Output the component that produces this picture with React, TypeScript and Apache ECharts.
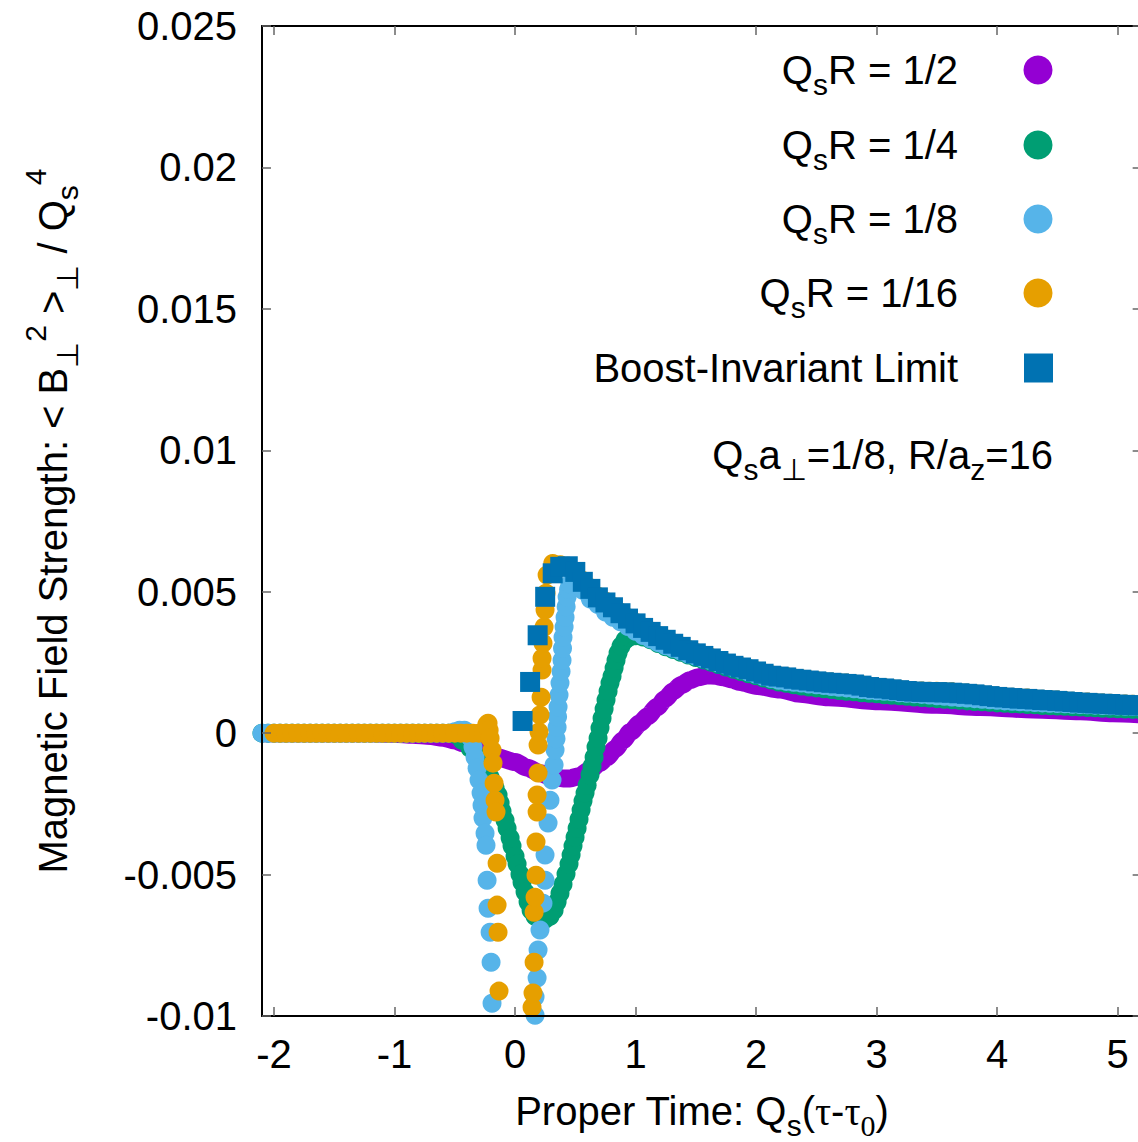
import React, { useEffect, useRef } from "react";
import * as echarts from "echarts";

const FONT = "'Liberation Sans', Arial, Helvetica, sans-serif";
const SERIF = "'Liberation Serif', 'DejaVu Serif', serif";

const X_TICKS = [-2, -1, 0, 1, 2, 3, 4, 5];
const Y_TICKS = [-0.01, -0.005, 0, 0.005, 0.01, 0.015, 0.02, 0.025];
const Y_TICK_LABELS = ["-0.01", "-0.005", "0", "0.005", "0.01", "0.015", "0.02", "0.025"];

const SERIES_NAMES = ["QsR = 1/2", "QsR = 1/4", "QsR = 1/8", "QsR = 1/16", "Boost-Invariant Limit"];
const LEGEND_TEXT = [
  "{m|Q}{s|s}{m|R = 1/2}",
  "{m|Q}{s|s}{m|R = 1/4}",
  "{m|Q}{s|s}{m|R = 1/8}",
  "{m|Q}{s|s}{m|R = 1/16}",
  "{m|Boost-Invariant Limit}",
];
const PARAM_TEXT = "{m|Q}{s|s}{m|a}{s|⊥}{m|=1/8, R/a}{s|z}{m|=16}";
const X_NAME = "{m|Proper Time: Q}{s|s}{m|(}{g|τ}{m|-}{g|τ}{z|0}{m|)}";
const Y_NAME = "{m|Magnetic Field Strength: < B}{s|⊥}{p|2}{m| >}{s|⊥}{m| / Q}{s|s}{p|4}";
const COLORS = ["#9400D3", "#009E73", "#56B4E9", "#E69F00", "#0072B2"];

// flat (zero) stretch before the collision
const FLAT_T = [-2.1, -2.05, -2, -1.95, -1.9, -1.85, -1.8, -1.75, -1.7, -1.65, -1.6, -1.55, -1.5, -1.45, -1.4, -1.35,
  -1.3, -1.25, -1.2, -1.15, -1.1, -1.05, -1, -0.95, -0.9, -0.85, -0.8, -0.75, -0.7, -0.65, -0.6, -0.55];

// common time grid (after tau0)
const T_GRID = [0.0625, 0.125, 0.1875, 0.25, 0.3125, 0.375, 0.4375, 0.5, 0.5625, 0.625, 0.6875, 0.75, 0.8125, 0.875,
  0.9375, 1, 1.0625, 1.125, 1.1875, 1.25, 1.3125, 1.375, 1.4375, 1.5, 1.5625, 1.625, 1.6875, 1.75, 1.8125, 1.875,
  1.9375, 2, 2.0625, 2.125, 2.1875, 2.25, 2.3125, 2.375, 2.4375, 2.5, 2.5625, 2.625, 2.6875, 2.75, 2.8125, 2.875,
  2.9375, 3, 3.0625, 3.125, 3.1875, 3.25, 3.3125, 3.375, 3.4375, 3.5, 3.5625, 3.625, 3.6875, 3.75, 3.8125, 3.875,
  3.9375, 4, 4.0625, 4.125, 4.1875, 4.25, 4.3125, 4.375, 4.4375, 4.5, 4.5625, 4.625, 4.6875, 4.75, 4.8125, 4.875,
  4.9375, 5, 5.0625, 5.125, 5.1875];

const BOOST_V = [0.00043, 0.00181, 0.00346, 0.00482, 0.00565, 0.00588, 0.0059, 0.0057, 0.00535, 0.0051,
  0.0048, 0.00462, 0.00445, 0.00424, 0.00405, 0.00388, 0.00372, 0.00358, 0.00343, 0.0033,
  0.00316, 0.00305, 0.00293, 0.00282, 0.00273, 0.00264, 0.00255, 0.00246, 0.00238, 0.00232,
  0.00226, 0.00218, 0.0021, 0.00203, 0.002, 0.00197, 0.00192, 0.00189, 0.00186, 0.00183,
  0.0018, 0.00178, 0.00176, 0.00174, 0.00172, 0.00168, 0.00163, 0.0016, 0.00158, 0.00155,
  0.00152, 0.00149, 0.00147, 0.00146, 0.00145, 0.00145, 0.00144, 0.00143, 0.00141, 0.00139,
  0.00137, 0.00134, 0.00131, 0.00128, 0.00126, 0.00124, 0.00122, 0.00121, 0.00119, 0.00117,
  0.00116, 0.00114, 0.00112, 0.0011, 0.00108, 0.00107, 0.00105, 0.00104, 0.00103, 0.00101,
  0.001, 0.00099, 0.00098];

const PURPLE_PTS = [[-2.1, 0], [-1.6, 0], [-1.2, 0], [-1.0, -0.00002], [-0.85, -0.00006], [-0.7, -0.0001],
  [-0.6, -0.00016], [-0.5, -0.00026], [-0.43, -0.00036], [-0.3, -0.00058], [-0.15, -0.00085], [0, -0.00102],
  [0.1, -0.00122], [0.207, -0.00142], [0.3, -0.00154], [0.4, -0.0016], [0.456, -0.0016], [0.53, -0.00152],
  [0.622, -0.00131], [0.7, -0.00106], [0.763, -0.00085], [0.83, -0.00056], [0.896, -0.00025], [0.96, 0.00005],
  [1.037, 0.00035], [1.1, 0.0006], [1.178, 0.00092], [1.25, 0.00122], [1.311, 0.00148], [1.38, 0.0017],
  [1.452, 0.00187], [1.52, 0.00198], [1.593, 0.00204], [1.66, 0.00203], [1.726, 0.00198], [1.8, 0.0019],
  [1.867, 0.00181], [2.008, 0.00167], [2.2, 0.00154], [2.365, 0.00139], [2.6, 0.00127], [3.03, 0.00113],
  [3.5, 0.001], [3.86, 0.00092], [4.3, 0.00084], [4.69, 0.00077], [4.96, 0.0007], [5.2, 0.00066]];

const GREEN_DIP = [[-0.5, -0.00004], [-0.44, -0.00025], [-0.373, -0.00053], [-0.307, -0.00085], [-0.249, -0.0012],
  [-0.207, -0.00156], [-0.166, -0.00194], [-0.141, -0.00219], [-0.124, -0.00247], [-0.108, -0.00276],
  [-0.083, -0.00308], [-0.066, -0.00336], [-0.041, -0.00371], [-0.025, -0.00399], [0, -0.00435], [0.017, -0.00463],
  [0.041, -0.00499], [0.058, -0.00527], [0.083, -0.00562], [0.108, -0.00597], [0.133, -0.00626], [0.166, -0.00647],
  [0.207, -0.00658], [0.249, -0.00658], [0.29, -0.00647], [0.324, -0.00626], [0.349, -0.00597], [0.373, -0.00566],
  [0.398, -0.00534], [0.423, -0.00498], [0.448, -0.00463], [0.465, -0.00431], [0.481, -0.00399], [0.498, -0.00368],
  [0.515, -0.00336], [0.531, -0.00304], [0.548, -0.00272], [0.564, -0.0024], [0.581, -0.00212], [0.598, -0.00184],
  [0.622, -0.00148], [0.639, -0.00117], [0.656, -0.00085], [0.672, -0.00049], [0.689, -0.00018], [0.705, 0.00018],
  [0.722, 0.00053], [0.739, 0.00085], [0.755, 0.00117], [0.772, 0.00148], [0.788, 0.00177], [0.805, 0.00201],
  [0.822, 0.0023], [0.838, 0.00258], [0.855, 0.00283], [0.88, 0.00308], [0.913, 0.00329], [0.946, 0.00339],
  [0.979, 0.00346]];
const GREEN_TAIL_V = [0.00344, 0.0034, 0.0033, 0.00317, 0.00305, 0.00296, 0.00286, 0.00276, 0.00267, 0.00259,
  0.00251, 0.00243, 0.00234, 0.00226, 0.00218, 0.0021, 0.00203, 0.00195, 0.00188, 0.00181,
  0.00176, 0.00171, 0.00167, 0.00163, 0.0016, 0.00157, 0.00154, 0.00151, 0.00148, 0.00146,
  0.00143, 0.00141, 0.00139, 0.00136, 0.00134, 0.00132, 0.0013, 0.00128, 0.00126, 0.00124,
  0.00122, 0.0012, 0.00118, 0.00116, 0.00114, 0.00112, 0.00111, 0.00109, 0.00107, 0.00106,
  0.00104, 0.00103, 0.00101, 0.001, 0.00098, 0.00097, 0.00096, 0.00095, 0.00093, 0.00092,
  0.00091, 0.0009, 0.00088, 0.00087, 0.00086, 0.00085, 0.00084, 0.00083];

const LBLUE_DIP = [[-0.5, 0.00005], [-0.46, 0.0001], [-0.42, 0.0001], [-0.39, 0.00002], [-0.373, -0.00014],
  [-0.349, -0.00049], [-0.332, -0.00085], [-0.315, -0.00124], [-0.299, -0.00166], [-0.282, -0.00212],
  [-0.274, -0.00255], [-0.266, -0.003], [-0.249, -0.00354], [-0.241, -0.00396], [-0.232, -0.0052],
  [-0.224, -0.00619], [-0.207, -0.00704], [-0.199, -0.0081], [-0.191, -0.00955],
  [0.166, -0.00997], [0.166, -0.00933], [0.183, -0.00866], [0.191, -0.00767], [0.207, -0.00696], [0.232, -0.00601],
  [0.249, -0.0052], [0.249, -0.00431], [0.274, -0.00318], [0.29, -0.00237], [0.307, -0.00166], [0.324, -0.00113],
  [0.332, -0.0006], [0.34, -0.0002], [0.349, 0.00021], [0.353, 0.00058], [0.357, 0.00092], [0.365, 0.00135],
  [0.373, 0.00177], [0.382, 0.00218], [0.39, 0.00258], [0.394, 0.003], [0.398, 0.00339], [0.407, 0.00375],
  [0.415, 0.0041], [0.424, 0.00447], [0.432, 0.00481], [0.444, 0.00508], [0.456, 0.00527]];
const LBLUE_TAIL_V = [0.0053, 0.00505, 0.00474, 0.00455, 0.00428, 0.0041, 0.00394, 0.00377, 0.0036, 0.00345,
  0.00333, 0.0032, 0.00309, 0.003, 0.0029, 0.0028, 0.00272, 0.00264, 0.00256, 0.00248,
  0.0024, 0.00232, 0.00224, 0.00216, 0.00208, 0.002, 0.00193, 0.00187, 0.00183, 0.0018,
  0.00177, 0.00174, 0.00171, 0.00168, 0.00165, 0.00162, 0.0016, 0.00157, 0.00154, 0.00152,
  0.0015, 0.00148, 0.00146, 0.00143, 0.00141, 0.00139, 0.00137, 0.00135, 0.00132, 0.0013,
  0.00128, 0.00126, 0.00124, 0.00122, 0.0012, 0.00118, 0.00116, 0.00114, 0.00113, 0.00111,
  0.0011, 0.00108, 0.00107, 0.00106, 0.00105, 0.00104, 0.00102, 0.00101, 0.001, 0.00099,
  0.00098, 0.00097, 0.00096, 0.00095, 0.00094, 0.00093];

const ORANGE_DIP = [[-0.5, 0], [-0.45, 0], [-0.4, 0], [-0.35, 0], [-0.3, 0], [-0.26, 0], [-0.235, 0.0003],
  [-0.224, 0.00035], [-0.215, 0.0001], [-0.207, -0.00018], [-0.191, -0.0006], [-0.183, -0.00106],
  [-0.174, -0.00177], [-0.166, -0.00237], [-0.158, -0.00279], [-0.149, -0.0046], [-0.149, -0.00608],
  [-0.141, -0.00704], [-0.133, -0.00912],
  [0.141, -0.00969], [0.149, -0.00919], [0.158, -0.0081], [0.158, -0.00633], [0.166, -0.0058], [0.174, -0.00502],
  [0.174, -0.00385], [0.183, -0.00279], [0.183, -0.00219], [0.191, -0.00141], [0.191, -0.00042], [0.199, 0.00004],
  [0.207, 0.00064], [0.216, 0.00127], [0.224, 0.00223], [0.224, 0.00265], [0.232, 0.00318], [0.241, 0.00375],
  [0.249, 0.00435], [0.257, 0.00495], [0.266, 0.00559]];
const ORANGE_TAIL_V = [0.006, 0.00595, 0.0059, 0.00572, 0.0054, 0.00514, 0.00484, 0.00466, 0.00448, 0.00427,
  0.00408, 0.00391, 0.00375, 0.00361, 0.00346, 0.00333, 0.00319, 0.00308, 0.00296, 0.00285,
  0.00276, 0.00267, 0.00258, 0.00249, 0.00241, 0.00235, 0.00229, 0.00221, 0.00213, 0.00206,
  0.00203, 0.002, 0.00195, 0.00192, 0.00189, 0.00186, 0.00183, 0.00181, 0.00179, 0.00177,
  0.00175, 0.00171, 0.00166, 0.00163, 0.00161, 0.00158, 0.00155, 0.00152, 0.0015, 0.00149,
  0.00148, 0.00148, 0.00147, 0.00146, 0.00144, 0.00142, 0.0014, 0.00137, 0.00134, 0.00131,
  0.00129, 0.00127, 0.00125, 0.00124, 0.00122, 0.0012, 0.00119, 0.00117, 0.00115, 0.00113,
  0.00111, 0.0011, 0.00108, 0.00107, 0.00106, 0.00104, 0.00103, 0.00102, 0.00101];

const ROW_Y = [70, 145, 219, 293, 368];

const RICH: any = {
  m: { fontSize: 40, fontFamily: FONT, color: "#000" },
  s: { fontSize: 30, fontFamily: FONT, color: "#000", padding: [28, 0, 0, 0] },
  p: { fontSize: 30, fontFamily: FONT, color: "#000", padding: [0, 0, 36, 0] },
  g: { fontSize: 40, fontFamily: SERIF, color: "#000" },
  z: { fontSize: 30, fontFamily: SERIF, color: "#000", padding: [28, 0, 0, 0] },
};

function pairs(ts: number[], vs: number[]) {
  return vs.map((v, i) => [ts[i], v]);
}

export default function App() {
  const ref = useRef<HTMLDivElement>(null);
  useEffect(() => {
    if (!ref.current) return;
    const chart = echarts.init(ref.current, null, { renderer: "svg" });
    const flat = FLAT_T.map((t) => [t, 0]);
    const green = [...flat, ...GREEN_DIP, ...pairs(T_GRID.slice(15), GREEN_TAIL_V)];
    const lblue = [...flat, ...LBLUE_DIP, ...pairs(T_GRID.slice(7), LBLUE_TAIL_V)];
    const orange = [...flat.slice(2), ...ORANGE_DIP, ...pairs(T_GRID.slice(4), ORANGE_TAIL_V)];
    const boost = pairs(T_GRID, BOOST_V);

    const tickStyle = { show: true, inside: true, length: 9, lineStyle: { color: "#666", width: 1.5 } };
    const lineStyle = { show: true, onZero: false, lineStyle: { color: "#000", width: 2 } };

    const yLabel = (v: number) => {
      let best = 0;
      Y_TICKS.forEach((t, i) => { if (Math.abs(t - v) < Math.abs(Y_TICKS[best] - v)) best = i; });
      return Y_TICK_LABELS[best];
    };

    const scatter = (i: number, data: any[], symbol: string, size: number) => ({
      name: SERIES_NAMES[i], type: "scatter", data, symbol, symbolSize: size, clip: false, silent: true,
      z: 2 + i, itemStyle: { color: COLORS[i], opacity: 1 },
    });

    const elements: any[] = [];
    LEGEND_TEXT.forEach((txt, i) => {
      elements.push({ type: "text", x: 958, y: ROW_Y[i], style: { text: txt, rich: RICH, align: "right", verticalAlign: "middle" } });
      if (i < 4) {
        elements.push({ type: "circle", shape: { cx: 1038, cy: ROW_Y[i], r: 14.5 }, style: { fill: COLORS[i] } });
      } else {
        elements.push({ type: "rect", shape: { x: 1024, y: ROW_Y[i] - 14.5, width: 29, height: 29 }, style: { fill: COLORS[i] } });
      }
    });
    elements.push({ type: "text", x: 1053, y: 455, style: { text: PARAM_TEXT, rich: RICH, align: "right", verticalAlign: "middle" } });

    chart.setOption({
      animation: false,
      backgroundColor: "#fff",
      grid: { left: 262, top: 26, width: 879.65, height: 990, containLabel: false, outerBoundsMode: "none" },
      xAxis: [
        {
          type: "value", min: -2.1, max: 5.2, position: "bottom", z: 10,
          axisLine: lineStyle, splitLine: { show: false },
          axisTick: { ...tickStyle, customValues: X_TICKS },
          axisLabel: { customValues: X_TICKS, fontSize: 40, color: "#000", fontFamily: FONT, margin: 18 },
          name: X_NAME, nameLocation: "middle", nameGap: 66,
          nameTextStyle: { fontSize: 40, color: "#000", fontFamily: FONT, rich: RICH },
        },
        {
          type: "value", min: -2.1, max: 5.2, position: "top", z: 10,
          axisLine: lineStyle, splitLine: { show: false },
          axisTick: { ...tickStyle, customValues: X_TICKS },
          axisLabel: { show: false },
        },
      ],
      yAxis: [
        {
          type: "value", min: -0.01, max: 0.025, position: "left", z: 10,
          axisLine: lineStyle, splitLine: { show: false },
          axisTick: { ...tickStyle, customValues: Y_TICKS },
          axisLabel: { customValues: Y_TICKS, formatter: yLabel, fontSize: 40, color: "#000", fontFamily: FONT, margin: 25 },
          name: Y_NAME, nameLocation: "middle", nameGap: 176,
          nameTextStyle: { fontSize: 40, color: "#000", fontFamily: FONT, rich: RICH },
        },
        {
          type: "value", min: -0.01, max: 0.025, position: "right", z: 10,
          axisLine: lineStyle, splitLine: { show: false },
          axisTick: { ...tickStyle, customValues: Y_TICKS },
          axisLabel: { show: false },
        },
      ],
      series: [
        {
          name: SERIES_NAMES[0], type: "line", data: PURPLE_PTS, showSymbol: false, smooth: 0.3, smoothMonotone: "x",
          silent: true, z: 1, lineStyle: { color: COLORS[0], width: 18, cap: "round", join: "round" },
        },
        scatter(1, green, "circle", 19),
        scatter(2, lblue, "circle", 19),
        scatter(3, orange, "circle", 19),
        scatter(4, boost, "rect", 20),
      ],
      graphic: { elements },
    });
    return () => chart.dispose();
  }, []);
  return <div ref={ref} style={{ position: "absolute", left: 0, top: 0, width: 1138, height: 1142, background: "#fff" }} />;
}
